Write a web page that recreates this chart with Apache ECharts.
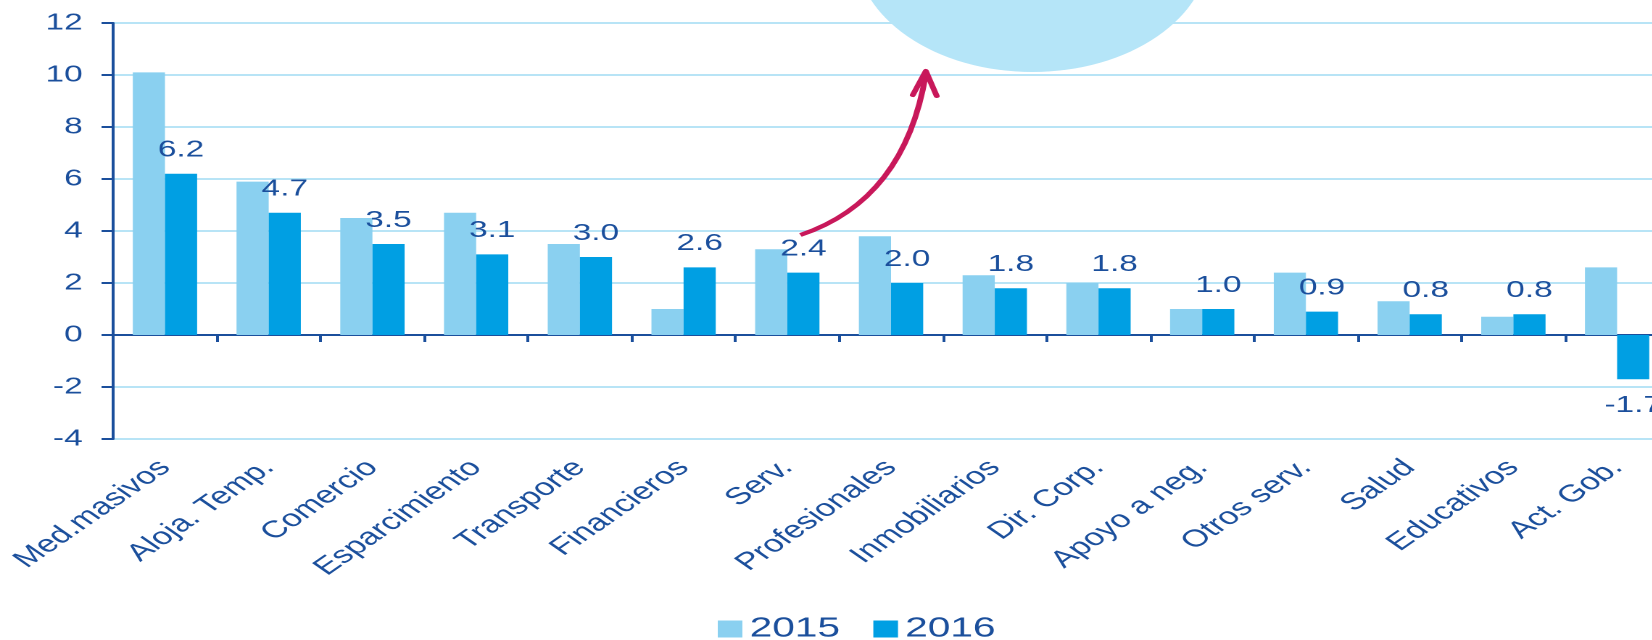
<!DOCTYPE html>
<html>
<head>
<meta charset="utf-8">
<title>Crecimiento por sector 2015-2016</title>
<script src="https://cdn.jsdelivr.net/npm/echarts@6.0.0/dist/echarts.min.js"></script>
<style>
  html, body { margin: 0; padding: 0; background: #fff; overflow: hidden; }
  /* the source picture is stretched sideways, so draw narrow and widen it */
  #chart { width: 1140px; height: 640px; transform: scaleX(1.45); transform-origin: 0 0; }
</style>
</head>
<body>
<div id="chart"></div>
<script>
// data
const categories = ['Med.masivos', 'Aloja. Temp.', 'Comercio', 'Esparcimiento', 'Transporte',
  'Financieros', 'Serv.', 'Profesionales', 'Inmobiliarios', 'Dir. Corp.',
  'Apoyo a neg.', 'Otros serv.', 'Salud', 'Educativos', 'Act. Gob.']
const values2015 = [10.1, 5.9, 4.5, 4.7, 3.5, 1.0, 3.3, 3.8, 2.3, 2.0, 1.0, 2.4, 1.3, 0.7, 2.6]
const values2016 = [6.2, 4.7, 3.5, 3.1, 3.0, 2.6, 2.4, 2.0, 1.8, 1.8, 1.0, 0.9, 0.8, 0.8, -1.7]
const seriesNames = ['2015', '2016']
const yMin = -4
const yMax = 12
const yStep = 2

const darkBlue = '#1b4f9c'
const lightBar = '#8ad0f0'
const darkBar = '#009fe3'
const gridColor = '#b8e4f6'
const arrowColor = '#c8185a'

const chart = echarts.init(document.getElementById('chart'), null, { devicePixelRatio: 2 })

// negative bars carry their label underneath
const data2016 = values2016.map(v => v < 0
  ? { value: v, label: { position: 'bottom', distance: 15 } }
  : v)

const option = {
  animation: false,
  textStyle: { fontFamily: 'Liberation Sans, Arial, sans-serif' },
  grid: { left: 78, top: 23, width: 1073, height: 416, outerBoundsMode: 'none' },
  legend: {
    data: seriesNames,
    left: 490,
    top: 610,
    icon: 'rect',
    itemWidth: 17,
    itemHeight: 17,
    itemGap: 23,
    textStyle: { color: darkBlue, fontSize: 28 }
  },
  xAxis: {
    type: 'category',
    data: categories,
    axisLine: { onZero: true, lineStyle: { color: darkBlue, width: 2 } },
    axisTick: { show: true, length: 7, lineStyle: { color: darkBlue, width: 2 } },
    // labels sit under the bottom of the grid, not under the zero line
    axisLabel: { interval: 0, rotate: 45, margin: 25, fontSize: 24, color: darkBlue },
    splitLine: { show: false }
  },
  yAxis: {
    type: 'value',
    min: yMin,
    max: yMax,
    interval: yStep,
    axisLine: { show: true, lineStyle: { color: darkBlue, width: 2 } },
    axisTick: { show: true, length: 8, lineStyle: { color: darkBlue, width: 2 } },
    axisLabel: { fontSize: 23, color: darkBlue, margin: 21 },
    splitLine: { show: true, lineStyle: { color: gridColor, width: 2 } }
  },
  series: [
    {
      name: seriesNames[0],
      type: 'bar',
      data: values2015,
      barGap: '0%',
      barCategoryGap: '38%',
      itemStyle: { color: lightBar }
    },
    {
      name: seriesNames[1],
      type: 'bar',
      data: data2016,
      itemStyle: { color: darkBar },
      label: {
        show: true,
        position: 'top',
        distance: 12,
        fontSize: 23,
        color: darkBlue,
        formatter: p => p.value.toFixed(1)
      }
    }
  ],
  // decoration: pale circle cut by the top edge and the red arrow
  graphic: [
    { type: 'circle', z: 10, shape: { cx: 712, cy: -50, r: 122 }, style: { fill: '#b5e5f8' } },
    {
      type: 'bezierCurve', z: 11,
      shape: { x1: 552, y1: 235, cpx1: 624, cpy1: 200, x2: 638.5, y2: 74 },
      style: { stroke: arrowColor, lineWidth: 4, fill: null }
    },
    {
      type: 'polyline', z: 11,
      shape: { points: [[629.5, 95], [638.5, 71], [646, 96]] },
      style: { stroke: arrowColor, lineWidth: 4, lineCap: 'round', lineJoin: 'round', fill: null }
    }
  ]
}

chart.setOption(option)
</script>
</body>
</html>
